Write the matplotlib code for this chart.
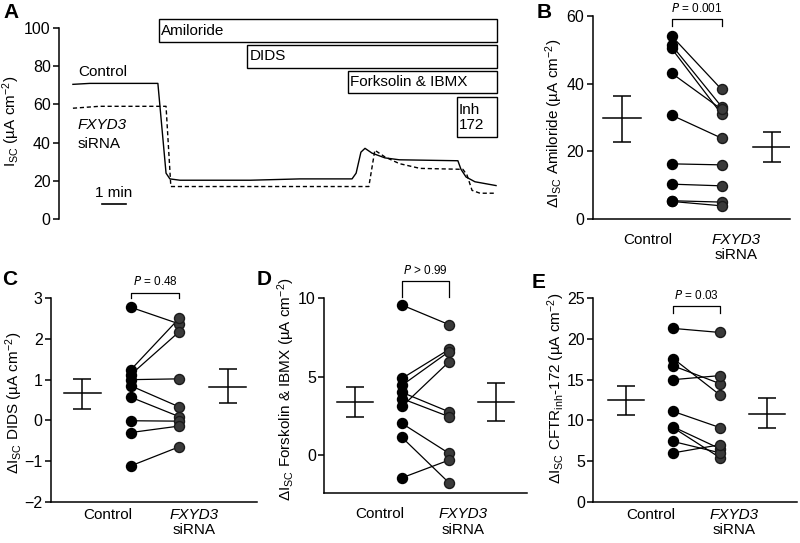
import numpy as np
import matplotlib
matplotlib.use('Agg')
import matplotlib.pyplot as plt
from matplotlib.patches import Rectangle

plt.rcParams['font.family'] = ['Liberation Sans', 'DejaVu Sans']
plt.rcParams['mathtext.default'] = 'regular'
plt.rcParams['font.size'] = 11

# --- panel A: traces (time in min, Isc in uA/cm2) ---
t_ctrl = [0, 0.7, 3.54, 3.88, 4.04, 4.46, 7.4, 9.46, 11.63, 11.8, 12.0, 12.17,
          12.46, 13.0, 13.6, 16.04, 16.17, 16.38, 16.75, 17.63]
i_ctrl = [70.5, 71, 71, 24, 21, 20.3, 20.3, 21, 21, 24, 35, 37,
          34.5, 32, 31, 30.5, 26, 22, 19.5, 17.5]
t_si = [0, 1.1, 3.88, 4.08, 12.33, 12.58, 13.0, 13.6, 14.46, 16.25, 16.42,
        16.63, 16.96, 17.63]
i_si = [58, 59, 59, 17, 17, 36, 32.5, 29, 26.5, 26, 23, 15, 13.5, 13.5]

drugs = ['Amiloride', 'DIDS', 'Forksolin & IBMX', 'Inh\n172']
drug_start = [3.57, 7.26, 11.45, 15.99]
drug_bottom = [92.5, 79.2, 66.1, 42.7]
drug_top = [104.5, 91.1, 77.6, 64.0]

# --- panels B-E: paired values ---
amil_ctrl = [54.1, 51.4, 50.4, 43.1, 30.7, 16.3, 10.3, 5.4, 5.2]
amil_si = [38.3, 33.2, 31.0, 32.4, 23.9, 16.0, 9.8, 5.0, 3.9]
amil_err = [(29.8, 22.7, 36.5), (21.2, 16.7, 25.6)]

dids_ctrl = [2.78, 1.24, 1.12, 1.0, 0.85, 0.57, -0.01, -0.30, -1.12]
dids_si = [2.37, 2.51, 2.18, 1.02, 0.33, 0.09, -0.02, -0.14, -0.65]
dids_err = [(0.66, 0.28, 1.02), (0.83, 0.43, 1.25)]

fsk_ctrl = [9.57, 4.89, 4.45, 4.0, 3.6, 3.1, 2.02, 1.13, -1.45]
fsk_si = [8.32, 6.74, 6.6, 2.76, 2.45, 5.95, 0.11, -1.77, -0.32]
fsk_err = [(3.38, 2.40, 4.36), (3.38, 2.17, 4.57)]

inh_ctrl = [21.3, 17.6, 16.7, 15.0, 11.1, 9.2, 9.1, 7.4, 6.0]
inh_si = [20.8, 13.1, 14.5, 15.5, 9.1, 6.5, 5.4, 6.0, 7.0]
inh_err = [(12.5, 10.7, 14.2), (10.8, 9.0, 12.7)]

W, H = 800, 543
fig = plt.figure(figsize=(8, 5.43), dpi=100)


def rect(left, right, top, bottom):
    return [left / W, 1 - bottom / H, (right - left) / W, (bottom - top) / H]


def style(ax):
    for s in ['top', 'right']:
        ax.spines[s].set_visible(False)
    for s in ['left', 'bottom']:
        ax.spines[s].set_linewidth(1.1)
    ax.tick_params(axis='y', direction='out', length=4, width=1.1, labelsize=11.5, pad=2)


# panel A
axA = fig.add_axes(rect(59, 497, 28, 219))
style(axA)
axA.spines['bottom'].set_visible(False)
axA.set_xticks([])
axA.set_xlim(-0.58, 17.67)
axA.set_ylim(0, 100)
axA.set_yticks([0, 20, 40, 60, 80, 100])
axA.plot(t_ctrl, i_ctrl, color='black', lw=1.0)
axA.plot(t_si, i_si, color='black', lw=1.0, ls=(0, (3, 2)))
for lab, x0, y0, y1 in zip(drugs, drug_start, drug_bottom, drug_top):
    axA.add_patch(Rectangle((x0, y0), 17.67 - x0, y1 - y0, facecolor='white',
                            edgecolor='black', lw=1.0, clip_on=False))
    axA.text(x0 + 0.1, (y0 + y1) / 2, lab, ha='left', va='center', fontsize=11,
             linespacing=1.1, clip_on=False)
axA.text(0.21, 77, 'Control', ha='left', va='center')
axA.text(0.21, 49.2, 'FXYD3', ha='left', va='center', style='italic')
axA.text(0.21, 39.3, 'siRNA', ha='left', va='center')
axA.plot([1.2, 2.2], [8, 8], color='black', lw=1.2)
axA.text(1.7, 10, '1 min', ha='center', va='bottom')
axA.set_ylabel('I$_{SC}$ (µA cm$^{-2}$)', fontsize=11)
axA.yaxis.set_label_coords(-0.084, 0.51)


def paired(ax, ctrl, si, err, ylim, yticks, ptxt, pbar, ylabel, lab_x, lab_y, gap):
    style(ax)
    ax.set_ylim(*ylim)
    ax.set_yticks(yticks)
    for a, b in zip(ctrl, si):
        ax.plot([1, 2], [a, b], color='black', lw=0.9, zorder=2)
    ax.plot([1] * len(ctrl), ctrl, 'o', ms=7.2, color='black', mec='black', zorder=3)
    ax.plot([2] * len(si), si, 'o', ms=7.2, color='#3a3a3a', mec='#1a1a1a', zorder=3)
    for x, (m, lo, hi) in zip([0, 3], err):
        ax.errorbar(x, m, yerr=[[m - lo], [hi - m]], color='black', lw=1.1,
                    capsize=6.5, capthick=1.1)
        ax.plot([x - 0.38, x + 0.38], [m, m], color='black', lw=1.1)
    top, bot = pbar
    ax.plot([1, 1, 2, 2], [bot, top, top, bot], color='black', lw=0.9, clip_on=False)
    ax.annotate(ptxt, xy=(1.5, top), xytext=(0, 3), textcoords='offset points',
                ha='center', va='bottom', fontsize=8.5, annotation_clip=False)
    ax.set_xticks([])
    for x, txt, st, dy in [(0.52, 'Control', 'normal', -gap),
                           (2.3, 'FXYD3', 'italic', -gap),
                           (2.3, 'siRNA', 'normal', -gap - 11)]:
        ax.annotate(txt, xy=(x, 0), xycoords=('data', 'axes fraction'),
                    xytext=(0, dy), textcoords='offset points', ha='center',
                    va='top', style=st, fontsize=11, annotation_clip=False)
    ax.set_ylabel(ylabel, fontsize=11)
    ax.yaxis.set_label_coords(lab_x, lab_y)


axB = fig.add_axes(rect(592.7, 790, 16, 219))
axB.set_xlim(-0.58, 3.37)
paired(axB, amil_ctrl, amil_si, amil_err, (0, 60), [0, 20, 40, 60],
       '$\\it{P}$ = 0.001', (59, 57), 'ΔI$_{SC}$ Amiloride (µA cm$^{-2}$)', -0.14, 0.47, 10)

axC = fig.add_axes(rect(51, 257, 298.3, 501.7))
axC.set_xlim(-0.64, 3.6)
paired(axC, dids_ctrl, dids_si, dids_err, (-2, 3), [-2, -1, 0, 1, 2, 3],
       '$\\it{P}$ = 0.48', (3.14, 3.0), 'ΔI$_{SC}$ DIDS (µA cm$^{-2}$)', -0.126, 0.485, 4.5)

axD = fig.add_axes(rect(324.3, 526.7, 298.3, 492.7))
axD.set_xlim(-0.65, 3.65)
paired(axD, fsk_ctrl, fsk_si, fsk_err, (-2.4, 10), [0, 5, 10],
       '$\\it{P}$ > 0.99', (11.1, 10.06), 'ΔI$_{SC}$ Forskolin & IBMX (µA cm$^{-2}$)', -0.135, 0.53, 10.5)

axE = fig.add_axes(rect(593.3, 796.7, 298.3, 501.7))
axE.set_xlim(-0.7, 3.63)
paired(axE, inh_ctrl, inh_si, inh_err, (0, 25), [0, 5, 10, 15, 20, 25],
       '$\\it{P}$ = 0.03', (24.0, 23.2), 'ΔI$_{SC}$ CFTR$_{inh}$-172 (µA cm$^{-2}$)', -0.13, 0.56, 4.5)

# panel letters
for lab, x, y in [('A', 3, 3), ('B', 537, 3), ('C', 2, 270), ('D', 257, 270), ('E', 532, 273)]:
    fig.text(x / W, 1 - y / H, lab, fontsize=15, fontweight='bold', ha='left', va='top')

fig.savefig('out.png', dpi=100)
